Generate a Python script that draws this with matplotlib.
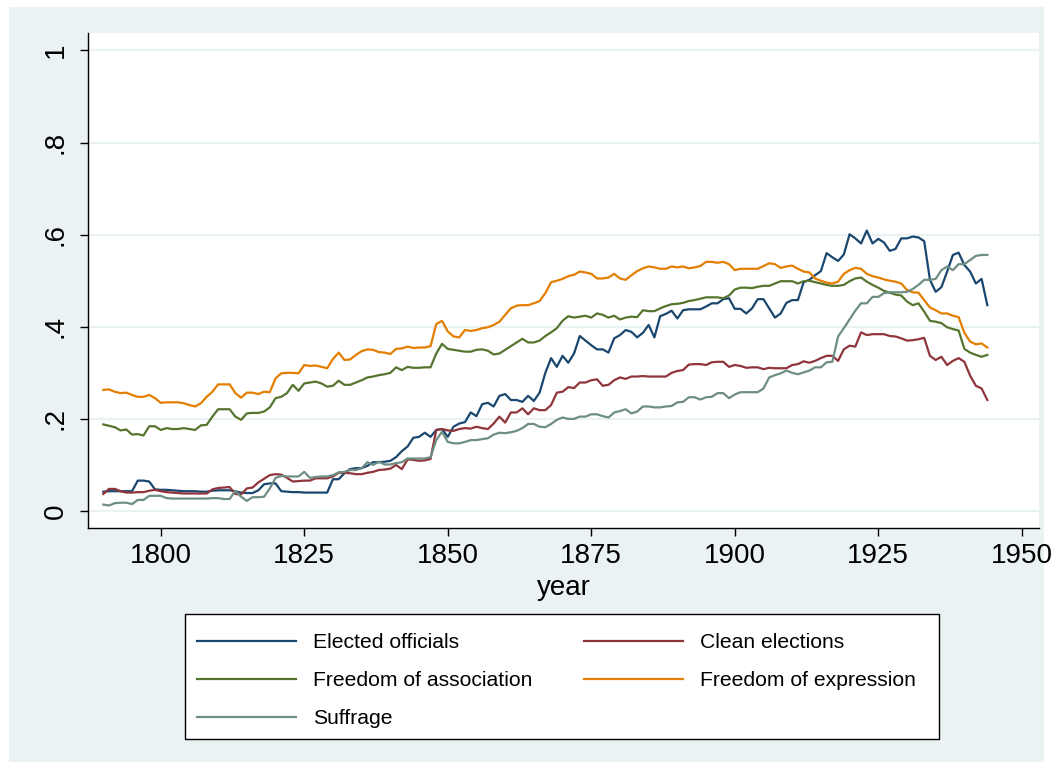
import numpy as np
import matplotlib
matplotlib.use("Agg")
import matplotlib.pyplot as plt
from matplotlib.patches import Rectangle

years = list(range(1790, 1945))

elected_officials = [
    .042, .043, .043, .043, .043, .043, .066, .066, .064, .047,
    .046, .046, .045, .044, .043, .043, .043, .042, .042, .044,
    .045, .045, .045, .043, .040, .039, .039, .045, .058, .060,
    .060, .043, .042, .041, .041, .040, .040, .040, .040, .040,
    .069, .069, .082, .091, .093, .093, .098, .106, .106, .107,
    .109, .117, .130, .140, .159, .161, .170, .161, .176, .178,
    .161, .183, .190, .193, .214, .206, .232, .235, .227, .250,
    .254, .241, .241, .237, .250, .239, .257, .300, .332, .313,
    .337, .322, .342, .380, .370, .360, .351, .351, .344, .375,
    .382, .393, .389, .377, .387, .404, .377, .423, .428, .435,
    .418, .436, .438, .438, .438, .444, .451, .451, .460, .462,
    .439, .439, .429, .440, .460, .460, .440, .420, .429, .452,
    .458, .458, .497, .502, .512, .521, .560, .551, .543, .557,
    .601, .592, .581, .609, .581, .591, .583, .565, .569, .592,
    .592, .596, .594, .586, .502, .476, .486, .520, .556, .561,
    .534, .520, .494, .504, .447]

clean_elections = [
    .037, .048, .048, .043, .040, .040, .041, .041, .044, .046,
    .043, .041, .040, .039, .038, .038, .038, .038, .038, .047,
    .050, .051, .052, .037, .036, .049, .051, .062, .070, .078,
    .080, .079, .072, .064, .065, .066, .066, .071, .071, .071,
    .075, .083, .083, .082, .080, .080, .083, .085, .089, .090,
    .092, .100, .091, .112, .111, .109, .110, .113, .176, .178,
    .175, .174, .178, .180, .179, .183, .180, .178, .190, .205,
    .192, .214, .214, .223, .210, .223, .219, .219, .230, .257,
    .259, .269, .267, .279, .279, .284, .286, .272, .274, .284,
    .290, .287, .292, .292, .293, .292, .292, .292, .292, .300,
    .304, .306, .318, .319, .319, .317, .323, .324, .324, .313,
    .317, .315, .311, .312, .312, .308, .311, .310, .310, .310,
    .317, .319, .325, .322, .326, .332, .337, .337, .326, .351,
    .359, .357, .388, .382, .384, .384, .384, .380, .379, .375,
    .370, .371, .373, .376, .337, .328, .335, .317, .326, .332,
    .324, .294, .272, .266, .241]

freedom_association = [
    .188, .185, .182, .175, .177, .166, .167, .164, .184, .184,
    .176, .180, .178, .178, .180, .178, .176, .186, .187, .205,
    .221, .221, .221, .205, .198, .212, .213, .213, .216, .225,
    .245, .248, .256, .274, .261, .277, .279, .281, .277, .270,
    .272, .283, .274, .274, .279, .284, .290, .292, .295, .297,
    .300, .312, .306, .313, .311, .311, .312, .312, .342, .363,
    .352, .350, .348, .346, .346, .350, .351, .348, .340, .342,
    .350, .358, .366, .374, .366, .366, .370, .380, .388, .397,
    .413, .423, .420, .422, .424, .420, .429, .426, .420, .424,
    .416, .420, .422, .421, .436, .434, .434, .440, .445, .449,
    .450, .452, .456, .458, .461, .464, .464, .464, .462, .468,
    .481, .485, .485, .484, .487, .489, .489, .494, .499, .499,
    .499, .494, .499, .500, .497, .494, .491, .489, .489, .491,
    .499, .505, .507, .498, .491, .485, .478, .474, .470, .468,
    .455, .447, .451, .433, .413, .411, .408, .399, .395, .392,
    .352, .344, .339, .335, .339]

freedom_expression = [
    .263, .264, .259, .256, .257, .252, .248, .248, .252, .245,
    .235, .236, .236, .236, .234, .230, .227, .234, .248, .259,
    .275, .275, .275, .256, .246, .257, .257, .254, .259, .258,
    .288, .299, .300, .300, .299, .317, .315, .316, .313, .310,
    .330, .344, .328, .329, .339, .347, .351, .350, .345, .344,
    .341, .352, .353, .357, .354, .355, .355, .358, .406, .413,
    .390, .379, .377, .393, .391, .393, .397, .399, .404, .411,
    .426, .440, .446, .447, .447, .451, .456, .473, .497, .500,
    .504, .510, .513, .520, .518, .515, .505, .505, .507, .515,
    .505, .502, .512, .521, .527, .531, .529, .526, .526, .531,
    .529, .531, .527, .529, .532, .541, .541, .539, .541, .536,
    .523, .526, .526, .526, .526, .532, .538, .536, .528, .531,
    .533, .526, .520, .518, .505, .500, .496, .494, .498, .515,
    .523, .528, .526, .515, .510, .507, .503, .500, .498, .494,
    .480, .475, .474, .458, .442, .436, .429, .429, .424, .421,
    .387, .368, .362, .364, .355]

suffrage = [
    .014, .012, .017, .018, .018, .015, .024, .024, .033, .033,
    .033, .028, .027, .027, .027, .027, .027, .027, .027, .028,
    .028, .026, .026, .044, .031, .022, .030, .030, .031, .049,
    .072, .076, .075, .075, .075, .085, .072, .074, .075, .075,
    .078, .084, .085, .089, .089, .093, .106, .100, .107, .101,
    .101, .104, .106, .114, .114, .114, .114, .117, .154, .172,
    .150, .147, .147, .150, .154, .154, .156, .158, .166, .170,
    .169, .171, .174, .180, .189, .189, .183, .182, .189, .198,
    .203, .200, .200, .205, .205, .210, .210, .206, .203, .214,
    .217, .221, .212, .216, .227, .227, .225, .225, .227, .228,
    .236, .237, .247, .247, .242, .247, .248, .256, .256, .245,
    .253, .258, .258, .258, .258, .266, .290, .295, .299, .305,
    .300, .297, .301, .305, .312, .312, .323, .324, .379, .397,
    .416, .435, .451, .451, .465, .465, .473, .475, .475, .475,
    .476, .482, .491, .502, .502, .504, .523, .531, .523, .536,
    .536, .545, .554, .556, .556]

series_labels = ["Elected officials", "Clean elections", "Freedom of association",
                 "Freedom of expression", "Suffrage"]
x_ticks = [1800, 1825, 1850, 1875, 1900, 1925, 1950]
y_ticks = [0, .2, .4, .6, .8, 1]
y_tick_labels = ["0", ".2", ".4", ".6", ".8", "1"]

colors = ["#1a476f", "#90353b", "#55752f", "#e37e00", "#6e8e84"]
BG = "#eaf2f3"

plt.rcParams['font.family'] = ['Liberation Sans', 'DejaVu Sans']

W, H = 1053, 769
fig = plt.figure(figsize=(W / 100, H / 100), dpi=100, facecolor="white")
# graph region background
fig.patches.append(Rectangle((9 / W, 1 - 762 / H), (1044 - 9) / W, (762 - 7) / H,
                             transform=fig.transFigure, facecolor=BG, edgecolor="none", zorder=-10))
# legend frame
fig.patches.append(Rectangle((185 / W, 1 - 739 / H), (939 - 185) / W, (739 - 614) / H,
                             transform=fig.transFigure, facecolor="white", edgecolor="black",
                             lw=1.0, zorder=-5))

ax = fig.add_axes([88 / W, 1 - 528 / H, (1039 - 88) / W, (528 - 33) / H])
ax.set_facecolor("white")

data = [elected_officials, clean_elections, freedom_association, freedom_expression, suffrage]
lines = []
for vals, lab, c in zip(data, series_labels, colors):
    ln, = ax.plot(years, vals, color=c, lw=1.6, label=lab, zorder=3)
    lines.append(ln)

ax.set_xlim(1787.33, 1953.0)
ax.set_ylim(-0.0369, 1.038)
ax.set_xticks(x_ticks)
ax.set_yticks(y_ticks)
ax.set_yticklabels(y_tick_labels, rotation=90, va="center")
ax.tick_params(axis="both", labelsize=20, length=6, width=1, color="black", pad=5)
ax.tick_params(axis="y", pad=8)
ax.grid(axis="y", color=BG, lw=1.6, zorder=0)
for s in ["top", "right"]:
    ax.spines[s].set_visible(False)
for s in ["left", "bottom"]:
    ax.spines[s].set_color("black")
    ax.spines[s].set_linewidth(1.0)
ax.set_xlabel("year", fontsize=20, labelpad=4)

order = [0, 2, 4, 1, 3]
leg = fig.legend([lines[i] for i in order], [series_labels[i] for i in order],
                 ncol=2, loc="center",
                 bbox_to_anchor=(185 / W, 1 - 743 / H, (928 - 185) / W, (743 - 618) / H),
                 mode="expand", fontsize=15.2, frameon=False,
                 handlelength=4.7, handletextpad=0.8,
                 labelspacing=0.9, borderpad=0.57, borderaxespad=0)
for l in leg.get_lines():
    l.set_linewidth(1.6)

fig.savefig("out.png", dpi=100, facecolor=fig.get_facecolor())
